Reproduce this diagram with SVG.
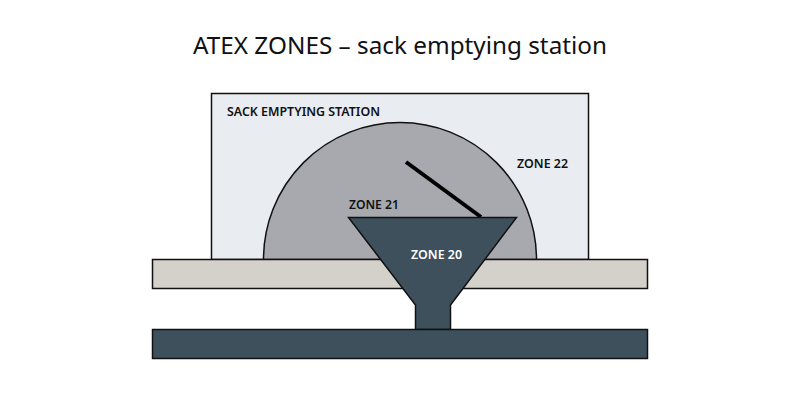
<svg xmlns="http://www.w3.org/2000/svg" width="800" height="400" viewBox="0 0 800 400">
<style>
text{font-family:"Noto Sans","Open Sans",sans-serif}
.l{font-size:12.300px;font-weight:600;fill:#111}
.s{stroke:#111;stroke-width:1.500}
</style>
<rect width="800" height="400" fill="#fff"/>
<text x="400" y="54" text-anchor="middle" font-size="24" fill="#111" textLength="414" lengthAdjust="spacingAndGlyphs">ATEX ZONES – sack emptying station</text>
<g id="station"><rect class="s" x="211.500" y="93.500" width="377" height="166" fill="#e9ecf1"/><text class="l" x="227" y="115.500" textLength="153" lengthAdjust="spacingAndGlyphs">SACK EMPTYING STATION</text></g>
<g id="zone21"><path class="s" d="M263.500 259.500A136.500 137 0 0 1 536.500 259.500Z" fill="#a7a9ae"/><text class="l" x="349" y="208.500" textLength="50" lengthAdjust="spacingAndGlyphs">ZONE 21</text></g>
<g id="zone22"><text class="l" x="517" y="167.500" textLength="51" lengthAdjust="spacingAndGlyphs">ZONE 22</text></g>
<g id="floor"><rect class="s" x="152.500" y="259.500" width="495" height="29" fill="#d4d0ca"/></g>
<g id="connectors"><line x1="406" y1="162" x2="481" y2="217" stroke="#000" stroke-width="4"/></g>
<g id="zone20"><path class="s" d="M348.500 217.500H516.500L450.500 305V329.500H415.500V305Z" fill="#3d505c"/><text class="l" x="436.500" y="258.500" text-anchor="middle" style="fill:#fff" textLength="51" lengthAdjust="spacingAndGlyphs">ZONE 20</text></g>
<g id="conveyor"><rect class="s" x="152.500" y="329.500" width="495" height="29" fill="#3d505c"/></g>
</svg>
